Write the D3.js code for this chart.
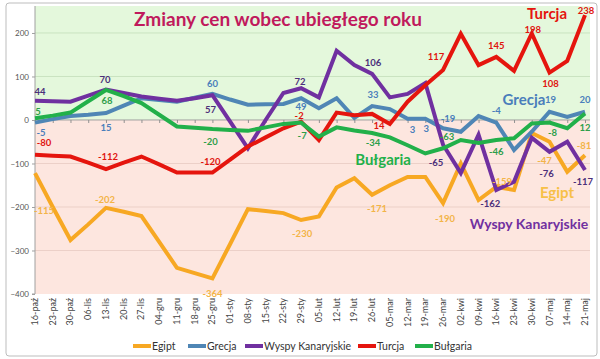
<!DOCTYPE html>
<html><head><meta charset="utf-8">
<script src="https://cdn.jsdelivr.net/npm/d3@7"></script>
<style>body{margin:0;background:#fff}svg{display:block;font-family:Lato,"Open Sans",sans-serif}</style>
</head><body><svg id="c" width="600" height="359"></svg>
<script>
const categories = ["16-paź","23-paź","30-paź","06-lis","13-lis","20-lis","27-lis","04-gru","11-gru","18-gru","25-gru","01-sty","08-sty","15-sty","22-sty","29-sty","05-lut","12-lut","19-lut","26-lut","05-mar","12-mar","19-mar","26-mar","02-kwi","09-kwi","16-kwi","23-kwi","30-kwi","07-maj","14-maj","21-maj"];
const egipt = [-122,-200,-276,-240,-202,-211,-221,-280,-340,-352,-364,-285,-205,-209,-214,-230,-222,-155,-134,-172,-150,-131,-131,-191,-100,-184,-154,-161,-30,-50,-119,-81];
const grecja = [-6,2,9,12,16,33,50,46,42,51,60,47,35,36,37,50,27,50,5,32,25,3,3,-19,-27,9,-6,-69,-27,19,7,19];
const wyspy = [44,43,42,56,70,62,54,49,44,50,57,-4,-65,0,62,73,52,159,126,106,52,60,85,-57,-122,-34,-161,-142,-41,-73,-50,-115];
const turcja = [-80,-82,-84,-98,-113,-98,-84,-102,-121,-121,-121,-91,-61,-40,-19,-4,-46,17,11,14,-9,42,80,115,198,126,145,113,199,109,136,241];
const bulgaria = [4,10,17,43,69,55,39,12,-15,-18,-21,-23,-25,-17,-9,-6,-38,-17,-24,-30,-40,-58,-77,-65,-46,-53,-46,-42,-8,-6,-19,15];
const seriesNames = ["Egipt","Grecja","Wyspy Kanaryjskie","Turcja","Bułgaria"];
const yTicks = [200,100,0,-100,-200,-300,-400];
const title = "Zmiany cen wobec ubiegłego roku";

// data labels: series index, category index, text
const labelSeries = [2,2,2,2,2,2,2,2,2, 1,1,1,1,1,1,1,1,1,1,1, 4,4,4,4,4,4,4,4,4, 3,3,3,3,3,3,3,3,3,3, 0,0,0,0,0,0,0,0,0];
const labelIndex  = [0,4,10,15,19,23,26,29,31, 0,4,10,15,19,21,22,23,26,29,31, 0,4,10,15,19,23,26,29,31, 0,4,10,15,19,23,26,28,29,31, 0,4,10,15,19,23,27,29,31];
const labelText   = ["44","70","57","72","106","-65","-162","-76","-117",
  "-5","15","60","49","33","3","3","-19","-4","19","20",
  "5","68","-20","-7","-34","-63","-46","-8","12",
  "-80","-112","-120","-2","14","117","145","198","108","238",
  "-115","-202","-364","-230","-171","-190","-159","-47","-81"];

// ---- layout / style (not data) ----
const labelOffsets = [[5,-9],[-1,-10],[-2,15],[-1,-7],[1,-11],[-7,18],[-6,14],[-3,22],[-2,12],
  [6,10],[0,15],[0,-10],[0,8],[1,-11],[5,11],[1,10],[5,-10],[0,-12],[1,-12],[0,-12],
  [3,-7],[1,11],[-2,13],[1,13],[1,10],[4,-12],[0,12],[3,10],[0,14],
  [9,-12],[2,-12],[-2,-11],[-2,-6],[7,12],[-7,-13],[0,-11],[1,-4],[1,11],[1,-4],
  [9,38],[-1,-8],[0,15],[1,14],[5,14],[2,16],[-12,-8],[-5,19],[-1,-10]];
const colors = ["#f7a823","#4f86b5","#7030a0","#e5150e","#22b04a"];
const labelColors = ["#f3b447","#4a7ebb","#4b2f7a","#e0140e","#2e9e4a"];
const values = [egipt, grecja, wyspy, turcja, bulgaria];

const svg = d3.select("#c");
const L = 35, R = 590, T = 6, B = 294;
const x = d3.scalePoint().domain(categories).range([35, 585]);
const y = d3.scaleLinear().domain([-400, 262]).range([B, T]);

// outer border
svg.append("rect").attr("x",6).attr("y",3).attr("width",591).attr("height",353)
  .attr("rx",3).attr("fill","#fff").attr("stroke","#bdbdbd").attr("stroke-width",1);

// backgrounds
svg.append("rect").attr("x",L).attr("y",T).attr("width",R-L).attr("height",y(0)-T).attr("fill","#e4f8dc");
svg.append("rect").attr("x",L).attr("y",y(0)).attr("width",R-L).attr("height",B-y(0)).attr("fill","#fde6df");

// gridlines
svg.append("g").selectAll("line").data(yTicks.filter(d=>d!==0 && d!==-400)).join("line")
  .attr("x1",L).attr("x2",R).attr("y1",d=>y(d)).attr("y2",d=>y(d))
  .attr("stroke",d=>d>0?"#c9e3c1":"#ecd0c8").attr("stroke-width",1);

// y axis
const ya = svg.append("g").attr("transform",`translate(${L},0)`)
  .call(d3.axisLeft(y).tickValues(yTicks).tickSize(3).tickFormat(d3.format("d")));
ya.select(".domain").attr("stroke","#a0a0a0").attr("d",`M-3,${B}H0V${T}`);
ya.selectAll(".tick line").attr("stroke","#a0a0a0");
ya.selectAll("text").attr("font-size",8).attr("fill","#555").attr("font-family","Lato, sans-serif").attr("x",-6);

// x axis at zero
const xa = svg.append("g").attr("transform",`translate(0,${y(0)})`)
  .call(d3.axisBottom(x).tickSize(3).tickFormat(""));
xa.select(".domain").attr("stroke","#a0a0a0").attr("d",`M${L},0H${R}`);
xa.selectAll(".tick line").attr("stroke","#909090");

// x labels at bottom
svg.append("g").selectAll("text").data(categories).join("text")
  .attr("transform",d=>`translate(${x(d)+3},${B+4}) rotate(-90)`)
  .attr("text-anchor","end").attr("font-size",9).attr("fill","#444").text(d=>d);

// lines
const line = d3.line().x((d,i)=>x(categories[i])).y(d=>y(d)).curve(d3.curveLinear);
const order = [0,1,2,3,4];
svg.append("g").selectAll("path").data(order).join("path")
  .attr("d",k=>line(values[k])).attr("fill","none").attr("stroke",k=>colors[k])
  .attr("stroke-width",4).attr("stroke-linejoin","miter").attr("stroke-linecap","butt");

// data labels
svg.append("g").selectAll("text").data(labelText.map((t,j)=>j)).join("text")
  .attr("x",j=>x(categories[labelIndex[j]])+labelOffsets[j][0])
  .attr("y",j=>y(values[labelSeries[j]][labelIndex[j]])+labelOffsets[j][1]+3.3)
  .attr("text-anchor","middle").attr("font-size",9.5).attr("font-weight","bold")
  .attr("fill",j=>labelColors[labelSeries[j]]).text(j=>labelText[j]);

// title
svg.append("text").attr("x",278).attr("y",26).attr("text-anchor","middle")
  .attr("font-size",19).attr("font-weight","bold").attr("fill","#c01a5c").text(title);

// series annotations
const ann = [[3,547,19,15],[1,524,105,15],[4,383,165,15],[0,557,198,15],[2,529,229,14]];
svg.append("g").selectAll("text").data(ann).join("text")
  .attr("x",d=>d[1]).attr("y",d=>d[2]).attr("text-anchor","middle")
  .attr("font-size",d=>d[3]).attr("font-weight","bold")
  .attr("fill",d=>d[0]===0?"#f7c048":d[0]===1?"#4a7ebb":colors[d[0]]).text(d=>seriesNames[d[0]]);

// legend
const legX = [133,188,245,358,415];
const lg = svg.append("g").selectAll("g").data(seriesNames).join("g")
  .attr("transform",(d,i)=>`translate(${legX[i]},346)`);
lg.append("line").attr("x1",0).attr("x2",18).attr("stroke",(d,i)=>colors[i]).attr("stroke-width",4);
lg.append("text").attr("x",19).attr("y",4).attr("font-size",10.5).attr("fill","#333").text(d=>d);
</script></body></html>
